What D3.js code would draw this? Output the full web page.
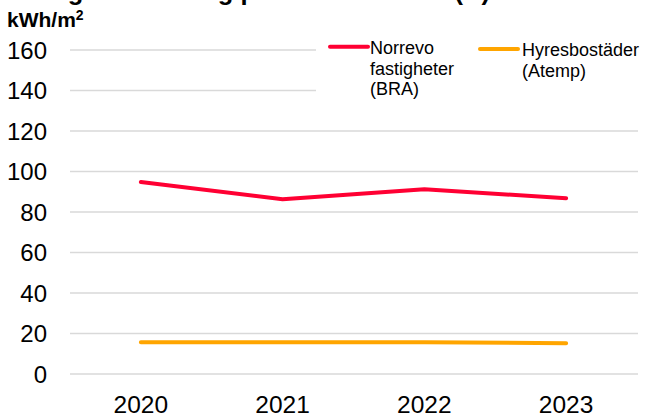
<!DOCTYPE html>
<html>
<head>
<meta charset="utf-8">
<script src="https://cdn.jsdelivr.net/npm/d3@7"></script>
<style>
	body { margin: 0; background: #fff; }
	svg { display: block; font-family: "Liberation Sans", Arial, sans-serif; }
</style>
</head>
<body>
<div id="chart"></div>
<script>
// Data
var years = ['2020', '2021', '2022', '2023'];
var norrevo = [94.8, 86.3, 91.2, 86.8];
var hyresbostader = [15.7, 15.7, 15.7, 15.2];
var yTicks = [0, 20, 40, 60, 80, 100, 120, 140, 160];
var seriesNames = [['Norrevo', 'fastigheter', '(BRA)'], ['Hyresbostäder', '(Atemp)']];

var width = 645,
	height = 418,
	colors = ['#ff0033', '#ffa500'];

var svg = d3.select('#chart').append('svg')
	.attr('width', width)
	.attr('height', height);

var x = d3.scaleBand()
	.domain(years)
	.range([70, 637]);

var y = d3.scaleLinear()
	.domain([0, 160])
	.range([374, 50]);

// Title (cut off at the top in the original)
svg.append('text')
	.attr('x', 11)
	.attr('y', 0)
	.style('font-size', '25.5px')
	.style('font-weight', 'bold')
	.text('Energianvändning per kvadratmeter (A) 2020–2023');

// Unit label
var unit = svg.append('text')
	.attr('x', 7)
	.attr('y', 27)
	.style('font-size', '21px')
	.style('font-weight', 'bold')
	.text('kWh/m');
unit.append('tspan')
	.attr('dy', -7)
	.style('font-size', '14px')
	.text('2');

// Gridlines
svg.append('g').selectAll('line')
	.data(yTicks)
	.enter().append('line')
	.attr('x1', 70)
	.attr('x2', 638)
	.attr('y1', function(d) { return y(d); })
	.attr('y2', function(d) { return y(d); })
	.attr('stroke', '#d9d9d9')
	.attr('stroke-width', 1.3);

// Y tick labels
svg.append('g').selectAll('text')
	.data(yTicks)
	.enter().append('text')
	.attr('x', 47)
	.attr('y', function(d) { return y(d); })
	.attr('dy', '0.36em')
	.attr('text-anchor', 'end')
	.style('font-size', '24px')
	.style('fill', '#000')
	.text(function(d) { return d; });

// X tick labels
svg.append('g').selectAll('text')
	.data(years)
	.enter().append('text')
	.attr('x', function(d) { return x(d) + x.bandwidth() / 2; })
	.attr('y', 413)
	.attr('text-anchor', 'middle')
	.style('font-size', '24.5px')
	.style('fill', '#000')
	.text(function(d) { return d; });

// Legend background covers the gridlines behind it
svg.append('rect')
	.attr('x', 316)
	.attr('y', 30)
	.attr('width', width - 316)
	.attr('height', 78)
	.attr('fill', '#fff');

// Lines
var line = d3.line()
	.x(function(d, i) { return x(years[i]) + x.bandwidth() / 2; })
	.y(function(d) { return y(d); });

[norrevo, hyresbostader].forEach(function(series, i) {
	svg.append('path')
		.datum(series)
		.attr('d', line)
		.attr('fill', 'none')
		.attr('stroke', colors[i])
		.attr('stroke-width', 4)
		.attr('stroke-linecap', 'round')
		.attr('stroke-linejoin', 'round');
});

// Legend
var legendPos = [{x: 330, y: 46.7, tx: 370, ty: 54}, {x: 480, y: 49, tx: 522, ty: 56}];
seriesNames.forEach(function(lines, i) {
	var p = legendPos[i];
	svg.append('line')
		.attr('x1', p.x)
		.attr('x2', p.x + 38)
		.attr('y1', p.y)
		.attr('y2', p.y)
		.attr('stroke', colors[i])
		.attr('stroke-width', 4)
		.attr('stroke-linecap', 'round');
	svg.append('g').selectAll('text')
		.data(lines)
		.enter().append('text')
		.attr('x', p.tx)
		.attr('y', function(d, j) { return p.ty + j * 20.6; })
		.style('font-size', '18px')
		.style('fill', '#000')
		.text(function(d) { return d; });
});
</script>
</body>
</html>
